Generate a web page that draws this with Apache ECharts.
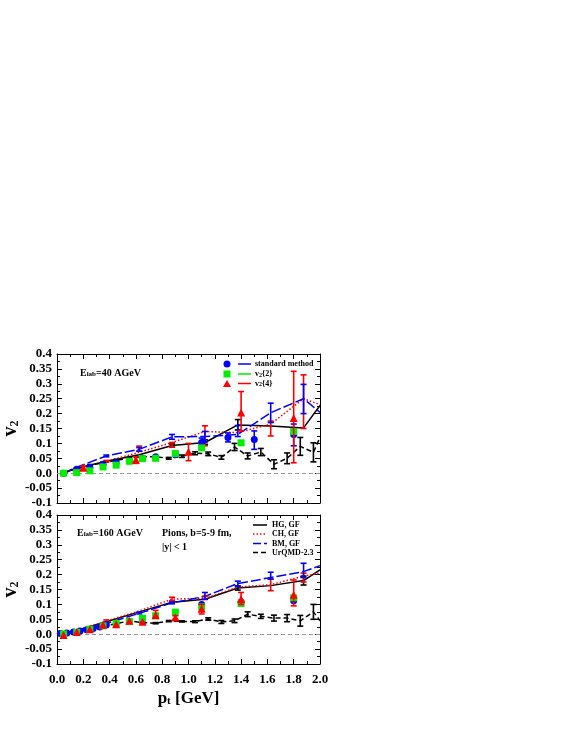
<!DOCTYPE html>
<html>
<head>
<meta charset="utf-8">
<script src="https://cdn.jsdelivr.net/npm/echarts@6/dist/echarts.min.js"></script>
<style>
html, body { margin: 0; padding: 0; background: #fff; }
#chart { width: 581px; height: 752px; }
</style>
</head>
<body>
<div id="chart"></div>
<script>
// ---- data ----
const modelPt = [0.05, 0.125, 0.375, 0.625, 0.875, 1.125, 1.375, 1.625, 1.875, 2.0]
const urPt = [0.05, 0.15, 0.25, 0.35, 0.45, 0.55, 0.65, 0.75, 0.85, 0.95, 1.05, 1.15, 1.25, 1.35, 1.45, 1.55, 1.65, 1.75, 1.85, 1.95, 2.0]

// top panel, E_lab = 40 AGeV
const hgTop = [0, 0.013, 0.04, 0.062, 0.093, 0.103, 0.162, 0.158, 0.152, 0.227]
const chTop = [0, 0.013, 0.04, 0.07, 0.103, 0.14, 0.136, 0.165, 0.25, 0.23]
const bmTop = [0, 0.016, 0.058, 0.08, 0.122, 0.123, 0.13, 0.203, 0.25, 0.204]
const urTop = [0.002, 0.016, 0.027, 0.035, 0.043, 0.05, 0.055, 0.055, 0.05, 0.057, 0.067, 0.065, 0.053, 0.088, 0.058, 0.071, 0.03, 0.05, 0.09, 0.07, 0.12]
const urTopErr = [0.002, 0.002, 0.002, 0.002, 0.003, 0.003, 0.003, 0.003, 0.003, 0.004, 0.005, 0.006, 0.006, 0.012, 0.01, 0.012, 0.015, 0.018, 0.03, 0.032, 0]
const hgTopBars = [[0.875, 0.088, 0.098], [1.125, 0.097, 0.112], [1.375, 0.145, 0.18]]
const chTopBars = [[0.375, 0.037, 0.043], [0.625, 0.074, 0.091], [0.875, 0.088, 0.103], [1.125, 0.092, 0.159], [1.625, 0.125, 0.175], [1.875, 0.15, 0.33]]
const bmTopBars = [[0.375, 0.055, 0.061], [0.625, 0.074, 0.086], [0.875, 0.114, 0.13], [1.125, 0.105, 0.14], [1.375, 0.123, 0.16], [1.625, 0.17, 0.235], [1.875, 0.2, 0.298]]

const stdTopPt = [0.05, 0.15, 0.25, 0.35, 0.45, 0.55, 0.65, 0.75, 0.9, 1.1, 1.3, 1.5, 1.8]
const stdTop = [0.0, 0.013, 0.02, 0.03, 0.035, 0.042, 0.05, 0.055, 0.062, 0.103, 0.12, 0.113, 0.13]
const stdTopBars = [[1.1, 0.09, 0.118], [1.3, 0.105, 0.135], [1.5, 0.08, 0.142], [1.8, 0.092, 0.165]]
const v22TopPt = [0.05, 0.15, 0.25, 0.35, 0.45, 0.55, 0.65, 0.75, 0.9, 1.1, 1.4, 1.8]
const v22Top = [0, 0.002, 0.008, 0.021, 0.027, 0.04, 0.049, 0.05, 0.066, 0.085, 0.102, 0.14]
const v24TopPt = [0.2, 0.6, 1.0, 1.4, 1.8]
const v24Top = [0.018, 0.045, 0.072, 0.204, 0.185]
const v24TopBars = [[0.2, 0.012, 0.024], [0.6, 0.033, 0.055], [1.0, 0.042, 0.1], [1.4, 0.142, 0.274], [1.8, 0.035, 0.342]]

// bottom panel, E_lab = 160 AGeV
const hgBot = [0, 0.01, 0.042, 0.075, 0.107, 0.117, 0.155, 0.163, 0.18, 0.216]
const chBot = [0, 0.01, 0.044, 0.078, 0.118, 0.12, 0.158, 0.166, 0.195, 0.205]
const bmBot = [0, 0.008, 0.036, 0.07, 0.105, 0.127, 0.17, 0.19, 0.21, 0.23]
const urBot = [0.002, 0.009, 0.018, 0.028, 0.035, 0.045, 0.039, 0.037, 0.044, 0.043, 0.042, 0.051, 0.041, 0.045, 0.067, 0.06, 0.054, 0.054, 0.045, 0.075, 0.045]
const urBotErr = [0.001, 0.001, 0.001, 0.002, 0.002, 0.002, 0.002, 0.002, 0.002, 0.002, 0.003, 0.004, 0.005, 0.006, 0.008, 0.007, 0.01, 0.012, 0.018, 0.025, 0]
const hgBotBars = [[1.375, 0.148, 0.162], [1.875, 0.165, 0.195]]
const chBotBars = [[0.375, 0.04, 0.048], [0.875, 0.112, 0.124], [1.125, 0.117, 0.128], [1.625, 0.146, 0.185], [1.875, 0.175, 0.205]]
const bmBotBars = [[0.375, 0.032, 0.04], [0.625, 0.068, 0.074], [0.875, 0.102, 0.108], [1.125, 0.117, 0.14], [1.375, 0.16, 0.178], [1.625, 0.185, 0.208], [1.875, 0.19, 0.238]]

const stdBotPt = [0.025, 0.075, 0.125, 0.175, 0.225, 0.275, 0.325, 0.375, 1.1, 1.4, 1.8]
const stdBot = [0.002, 0.004, 0.007, 0.011, 0.015, 0.019, 0.024, 0.031, 0.1, 0.108, 0.112]
const v22BotPt = [0.05, 0.15, 0.25, 0.35, 0.45, 0.55, 0.65, 0.75, 0.9, 1.1, 1.4, 1.8]
const v22Bot = [0.001, 0.006, 0.017, 0.028, 0.036, 0.043, 0.054, 0.062, 0.074, 0.092, 0.103, 0.122]
const v24BotPt = [0.05, 0.15, 0.25, 0.35, 0.45, 0.55, 0.65, 0.75, 0.9, 1.1, 1.4, 1.8]
const v24Bot = [-0.003, 0.007, 0.017, 0.032, 0.033, 0.045, 0.042, 0.064, 0.056, 0.085, 0.118, 0.132]
const v24BotBars = [[0.75, 0.055, 0.08], [0.9, 0.05, 0.062], [1.1, 0.068, 0.1], [1.4, 0.1, 0.14], [1.8, 0.095, 0.182]]

const xTicks = [0, 2, 0.2]
const yTicks = [-0.1, 0.4, 0.05]

// ---- helpers ----
const FONT = 'Liberation Serif'
const BLUE = '#0000ff', GREEN = '#00ee00', RED = '#ff0000', BLACK = '#000000'

const zip = (xs, ys) => xs.map((x, i) => [x, ys[i]])
const symErr = (xs, ys, es) => xs.map((x, i) => [x, ys[i] - es[i], ys[i] + es[i]]).filter((d, i) => es[i] > 0)

const renderBar = (params, api) => {
  const x = api.value(0)
  const lo = api.coord([x, api.value(1)])
  const hi = api.coord([x, api.value(2)])
  const w = 3
  const style = { stroke: api.visual('color'), lineWidth: 1.6 }
  return {
    type: 'group',
    children: [
      { type: 'line', shape: { x1: lo[0], y1: lo[1], x2: hi[0], y2: hi[1] }, style },
      { type: 'line', shape: { x1: lo[0] - w, y1: lo[1], x2: lo[0] + w, y2: lo[1] }, style },
      { type: 'line', shape: { x1: hi[0] - w, y1: hi[1], x2: hi[0] + w, y2: hi[1] }, style }
    ]
  }
}

const lineS = (data, color, type, gi, z) => ({
  type: 'line', data, xAxisIndex: gi * 2, yAxisIndex: gi * 2,
  showSymbol: false, clip: true, z,
  lineStyle: { color, width: 1.5, type }
})
const barS = (data, color, gi, z) => ({
  type: 'custom', data, xAxisIndex: gi * 2, yAxisIndex: gi * 2,
  renderItem: renderBar, clip: true, z,
  encode: { x: 0, y: [1, 2] },
  itemStyle: { color }
})
const dotS = (data, symbol, size, color, gi, z) => ({
  type: 'scatter', data, xAxisIndex: gi * 2, yAxisIndex: gi * 2,
  symbol, symbolSize: size, z,
  itemStyle: { color, opacity: 1 }
})

const labelFont = { fontFamily: FONT, fontWeight: 'bold', color: BLACK }

const xAxes = (gi, withLabels) => {
  const common = {
    type: 'value', gridIndex: gi, min: xTicks[0], max: xTicks[1], interval: xTicks[2],
    axisLine: { show: true, onZero: false, lineStyle: { color: BLACK, width: 1 } },
    axisTick: { show: true, inside: true, length: 5, lineStyle: { color: BLACK } },
    minorTick: { show: true, splitNumber: 2, length: 3, lineStyle: { color: BLACK } },
    splitLine: { show: false }
  }
  const bottom = Object.assign({}, common, {
    position: 'bottom',
    axisLabel: Object.assign({ show: withLabels, fontSize: 13, margin: 9, formatter: v => v.toFixed(1) }, labelFont)
  })
  if (withLabels) {
    bottom.name = '{a|p}{b|t}{a| [GeV]}'
    bottom.nameLocation = 'middle'
    bottom.nameGap = 26
    bottom.nameTextStyle = {
      rich: {
        a: { fontFamily: FONT, fontWeight: 'bold', fontSize: 17, lineHeight: 17 },
        b: { fontFamily: FONT, fontWeight: 'bold', fontSize: 11, lineHeight: 11, verticalAlign: 'bottom' }
      }
    }
  }
  const top = Object.assign({}, common, { position: 'top', axisLabel: { show: false } })
  return [bottom, top]
}

const yAxes = gi => {
  const common = {
    type: 'value', gridIndex: gi, min: yTicks[0], max: yTicks[1], interval: yTicks[2],
    axisLine: { show: true, onZero: false, lineStyle: { color: BLACK, width: 1 } },
    axisTick: { show: true, inside: true, length: 5, lineStyle: { color: BLACK } },
    minorTick: { show: true, splitNumber: 2, length: 3, lineStyle: { color: BLACK } },
    splitLine: { show: false }
  }
  const left = Object.assign({}, common, {
    position: 'left',
    axisLabel: Object.assign({
      fontSize: 13, margin: 5,
      formatter: v => Math.abs(v) < 1e-9 ? '0.0' : String(Math.round(v * 100) / 100)
    }, labelFont),
    name: '{a|v}{b|2}',
    nameLocation: 'middle',
    nameGap: 36,
    nameTextStyle: {
      rich: {
        a: { fontFamily: FONT, fontWeight: 'bold', fontSize: 20, lineHeight: 20 },
        b: { fontFamily: FONT, fontWeight: 'bold', fontSize: 12, lineHeight: 12, verticalAlign: 'bottom' }
      }
    }
  })
  const right = Object.assign({}, common, { position: 'right', axisLabel: { show: false } })
  return [left, right]
}

const zeroLine = gi => ({
  type: 'line', data: [], xAxisIndex: gi * 2, yAxisIndex: gi * 2, z: 1,
  markLine: {
    silent: true, symbol: 'none', label: { show: false },
    lineStyle: { color: '#999999', type: [4, 3], width: 1 },
    data: [{ yAxis: 0 }]
  }
})

const panelSeries = (gi, hg, ch, bm, ur, urErr, hgB, chB, bmB, std, stdB, v22, v24, v24B) => [
  zeroLine(gi),
  lineS(zip(modelPt, hg), BLACK, 'solid', gi, 3),
  lineS(zip(modelPt, ch), RED, [1.5, 2], gi, 3),
  lineS(zip(modelPt, bm), BLUE, [10, 3], gi, 3),
  lineS(zip(urPt, ur), BLACK, [5, 3], gi, 3),
  barS(hgB, BLACK, gi, 4),
  barS(chB, RED, gi, 4),
  barS(bmB, BLUE, gi, 4),
  barS(symErr(urPt, ur, urErr), BLACK, gi, 4),
  barS(stdB, BLUE, gi, 5),
  dotS(std, 'circle', 7, BLUE, gi, 5),
  dotS(v22, 'rect', 7, GREEN, gi, 6),
  barS(v24B, RED, gi, 7),
  dotS(v24, 'triangle', 8, RED, gi, 7)
]

// ---- legend / annotations (graphic) ----
const txt = (x, y, text, size, rich) => ({
  type: 'text', x, y, z: 100,
  style: {
    text, fontFamily: FONT, fontWeight: 'bold', fontSize: size, fill: BLACK,
    verticalAlign: 'middle', rich: rich || {}
  }
})
const subRich = (size, sub) => ({
  n: { fontFamily: FONT, fontWeight: 'bold', fontSize: size, lineHeight: size },
  s: { fontFamily: FONT, fontWeight: 'bold', fontSize: sub, lineHeight: sub, verticalAlign: 'bottom' }
})
const segm = (x1, x2, y, color, dash) => ({
  type: 'line', z: 100, shape: { x1, y1: y, x2, y2: y },
  style: { stroke: color, lineWidth: 1.5, lineDash: dash || null }
})

const legendTop = [
  { type: 'circle', z: 100, shape: { cx: 227, cy: 364, r: 3.5 }, style: { fill: BLUE } },
  segm(238, 251, 364, BLUE),
  txt(255, 364, 'standard method', 8),
  { type: 'rect', z: 100, shape: { x: 223.5, y: 370.5, width: 7, height: 7 }, style: { fill: GREEN } },
  segm(238, 251, 374, GREEN),
  txt(255, 374, '{n|v}{s|2}{2}', 8, subRich(8, 6)),
  { type: 'polygon', z: 100, shape: { points: [[223, 387], [231, 387], [227, 380]] }, style: { fill: RED } },
  segm(238, 251, 383.5, RED),
  txt(255, 383.5, '{n|v}{s|2}{4}', 8, subRich(8, 6)),
  txt(80, 373, '{n|E}{s|lab}{n|=40 AGeV}', 10, subRich(10, 7))
]
const legendBot = [
  segm(253, 267, 525, BLACK),
  txt(272, 525, 'HG, GF', 8),
  segm(253, 267, 534, RED, [1.5, 2]),
  txt(272, 534, 'CH, GF', 8),
  segm(253, 267, 543.5, BLUE, [8, 3]),
  txt(272, 543.5, 'BM, GF', 8),
  segm(253, 267, 552.5, BLACK, [5, 3]),
  txt(272, 552.5, 'UrQMD-2.3', 8),
  txt(77, 533, '{n|E}{s|lab}{n|=160 AGeV}', 10, subRich(10, 7)),
  txt(162, 533, 'Pions, b=5-9 fm,', 10),
  txt(162, 547, '|y| < 1', 10)
]

const chart = echarts.init(document.getElementById('chart'), null, { renderer: 'canvas' })
chart.setOption({
  backgroundColor: '#ffffff',
  animation: false,
  grid: [
    { left: 57, top: 354, width: 263, height: 149 },
    { left: 57, top: 515, width: 263, height: 149 }
  ],
  xAxis: [...xAxes(0, false), ...xAxes(1, true)],
  yAxis: [...yAxes(0), ...yAxes(1)],
  series: [
    ...panelSeries(0, hgTop, chTop, bmTop, urTop, urTopErr, hgTopBars, chTopBars, bmTopBars,
      zip(stdTopPt, stdTop), stdTopBars, zip(v22TopPt, v22Top), zip(v24TopPt, v24Top), v24TopBars),
    ...panelSeries(1, hgBot, chBot, bmBot, urBot, urBotErr, hgBotBars, chBotBars, bmBotBars,
      zip(stdBotPt, stdBot), [], zip(v22BotPt, v22Bot), zip(v24BotPt, v24Bot), v24BotBars)
  ],
  graphic: [...legendTop, ...legendBot]
})
</script>
</body>
</html>
